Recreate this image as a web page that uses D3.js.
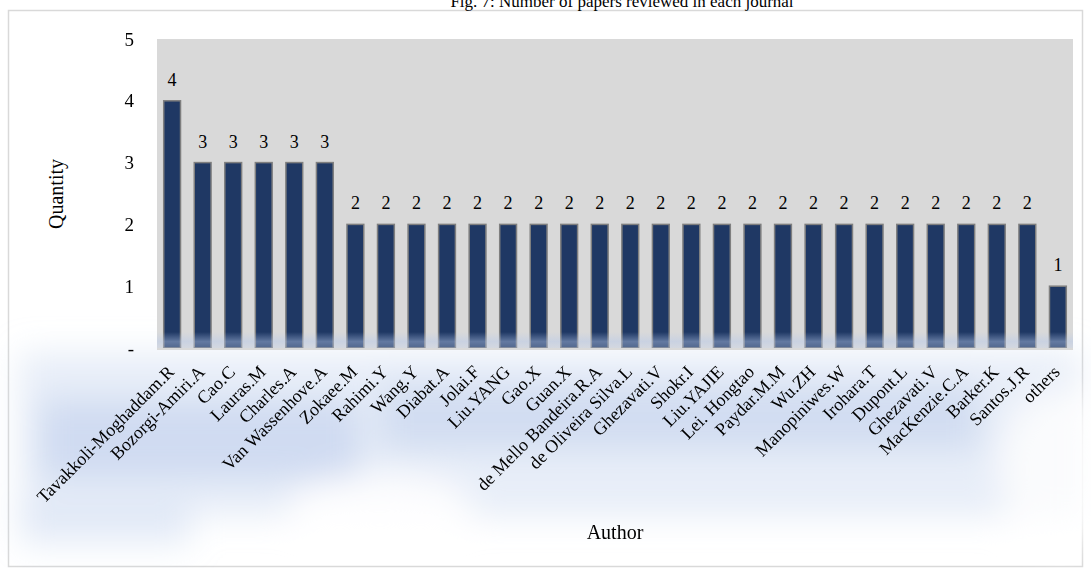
<!DOCTYPE html>
<html>
<head>
<meta charset="utf-8">
<script src="https://cdn.jsdelivr.net/npm/d3@7/dist/d3.min.js"></script>
<style>
  html, body { margin: 0; padding: 0; background: #ffffff; }
  svg { display: block; }
  text { font-family: "Liberation Serif", "Times New Roman", serif; fill: #000; }
</style>
</head>
<body>
<div id="chart"></div>
<script>
// Papers reviewed per author
const authors = [
  "Tavakkoli-Moghaddam.R", "Bozorgi-Amiri.A", "Cao.C", "Lauras.M", "Charles.A",
  "Van Wassenhove.A", "Zokaee.M", "Rahimi.Y", "Wang.Y", "Diabat.A",
  "Jolai.F", "Liu.YANG", "Gao.X", "Guan.X", "de Mello Bandeira.R.A",
  "de Oliveira Silva.L", "Ghezavati.V", "Shokr.I", "Liu.YAJIE", "Lei. Hongtao",
  "Paydar.M.M", "Wu.ZH", "Manopiniwes.W", "Irohara.T", "Dupont.L",
  "Ghezavati.V", "MacKenzie.C.A", "Barker.K", "Santos.J.R", "others"
];
const quantities = [
  4, 3, 3, 3, 3,
  3, 2, 2, 2, 2,
  2, 2, 2, 2, 2,
  2, 2, 2, 2, 2,
  2, 2, 2, 2, 2,
  2, 2, 2, 2, 1
];
const yTicks = [0, 1, 2, 3, 4, 5];
const yTickLabels = ["-", "1", "2", "3", "4", "5"];

const chartTitle = "Fig. 7: Number of papers reviewed in each journal";
const xTitle = "Author";
const yTitle = "Quantity";

const W = 1091, H = 568;
const plot = { left: 157, right: 1073, top: 39, bottom: 348 };

const svg = d3.select("#chart").append("svg")
  .attr("width", W).attr("height", H);

const defs = svg.append("defs");
defs.append("filter").attr("id", "soft")
  .attr("x", "-20%").attr("y", "-50%").attr("width", "140%").attr("height", "200%")
  .append("feGaussianBlur").attr("stdDeviation", 16);

// Outer frame
svg.append("rect")
  .attr("x", 8.5).attr("y", 10.5)
  .attr("width", 1074).attr("height", 556)
  .attr("fill", "none").attr("stroke", "#d9d9d9").attr("stroke-width", 1.5);

// Title
svg.append("text")
  .attr("x", 622).attr("y", 7)
  .attr("text-anchor", "middle")
  .attr("font-size", 17)
  .text(chartTitle);

// Soft bluish glow beneath the category axis
const haze = svg.append("g").attr("filter", "url(#soft)");
haze.append("rect").attr("x", 20).attr("y", 352).attr("width", 1060).attr("height", 165)
  .attr("fill", "#ccd9ef").attr("opacity", 0.45);
haze.append("rect").attr("x", 40).attr("y", 400).attr("width", 320).attr("height", 80)
  .attr("fill", "#b4c6e8").attr("opacity", 0.45);
haze.append("rect").attr("x", 380).attr("y", 385).attr("width", 600).attr("height", 65)
  .attr("fill", "#b8cae9").attr("opacity", 0.45);
haze.append("rect").attr("x", 20).attr("y", 505).attr("width", 170).attr("height", 40)
  .attr("fill", "#c8d6ef").attr("opacity", 0.45);
haze.append("ellipse").attr("cx", 380).attr("cy", 505).attr("rx", 90).attr("ry", 30)
  .attr("fill", "#ffffff").attr("opacity", 0.9);
haze.append("ellipse").attr("cx", 1060).attr("cy", 470).attr("rx", 60).attr("ry", 80)
  .attr("fill", "#ffffff").attr("opacity", 0.8);

// Scales
const x = d3.scaleBand()
  .domain(d3.range(authors.length))
  .range([plot.left, plot.right])
  .paddingInner(0.45).paddingOuter(0.22);

const y = d3.scaleLinear()
  .domain([0, 5])
  .range([plot.bottom, plot.top]);

// Plot background
svg.append("rect")
  .attr("x", plot.left).attr("y", plot.top)
  .attr("width", plot.right - plot.left).attr("height", plot.bottom - plot.top)
  .attr("fill", "#d9d9d9");

// Bars
svg.append("g").selectAll("rect")
  .data(quantities)
  .join("rect")
  .attr("x", (d, i) => x(i))
  .attr("y", d => y(d))
  .attr("width", x.bandwidth())
  .attr("height", d => y(0) - y(d))
  .attr("fill", "#1f3864")
  .attr("stroke", "#7f7f7f")
  .attr("stroke-width", 1.5);

// Light band along the base of the bars
const baseGrad = defs.append("linearGradient").attr("id", "baseGlow")
  .attr("x1", 0).attr("y1", 0).attr("x2", 0).attr("y2", 1);
baseGrad.append("stop").attr("offset", "0%").attr("stop-color", "#b6c9ec").attr("stop-opacity", 0);
baseGrad.append("stop").attr("offset", "60%").attr("stop-color", "#b6c9ec").attr("stop-opacity", 0.45);
baseGrad.append("stop").attr("offset", "100%").attr("stop-color", "#c6d4ee").attr("stop-opacity", 0.3);
svg.append("rect")
  .attr("x", plot.left).attr("y", plot.bottom - 16)
  .attr("width", plot.right - plot.left).attr("height", 16)
  .attr("fill", "url(#baseGlow)");

// Baseline
svg.append("line")
  .attr("x1", plot.left).attr("x2", plot.right)
  .attr("y1", plot.bottom + 1).attr("y2", plot.bottom + 1)
  .attr("stroke", "#d9d9d9").attr("stroke-width", 2);

// Value labels
svg.append("g").selectAll("text")
  .data(quantities)
  .join("text")
  .attr("x", (d, i) => x(i) + x.bandwidth() / 2)
  .attr("y", d => y(d) - 15)
  .attr("text-anchor", "middle")
  .attr("font-size", 18)
  .text(d => d);

// Y axis (labels only)
const yAxis = d3.axisLeft(y)
  .tickValues(yTicks)
  .tickFormat((d, i) => yTickLabels[i])
  .tickSize(0)
  .tickPadding(0);
const yg = svg.append("g")
  .attr("transform", `translate(${plot.left - 23},0)`)
  .call(yAxis);
yg.select(".domain").remove();
yg.selectAll("text")
  .attr("font-size", 19)
  .attr("font-family", "Liberation Serif, serif")
  .attr("fill", "#000");

// X axis category labels, rotated
const xAxis = d3.axisBottom(x)
  .tickFormat(i => authors[i])
  .tickSize(0)
  .tickPadding(0);
const xg = svg.append("g")
  .attr("transform", `translate(0,${plot.bottom})`)
  .call(xAxis);
xg.select(".domain").remove();
xg.selectAll(".tick text")
  .attr("font-size", 18)
  .attr("font-family", "Liberation Serif, serif")
  .attr("fill", "#000")
  .attr("text-anchor", "end")
  .attr("dy", null)
  .attr("y", 0)
  .attr("transform", "translate(3,25) rotate(-45)");

// Axis titles
svg.append("text")
  .attr("transform", "translate(63,194) rotate(-90)")
  .attr("text-anchor", "middle")
  .attr("font-size", 20)
  .text(yTitle);

svg.append("text")
  .attr("x", 615).attr("y", 539)
  .attr("text-anchor", "middle")
  .attr("font-size", 20)
  .text(xTitle);
</script>
</body>
</html>
